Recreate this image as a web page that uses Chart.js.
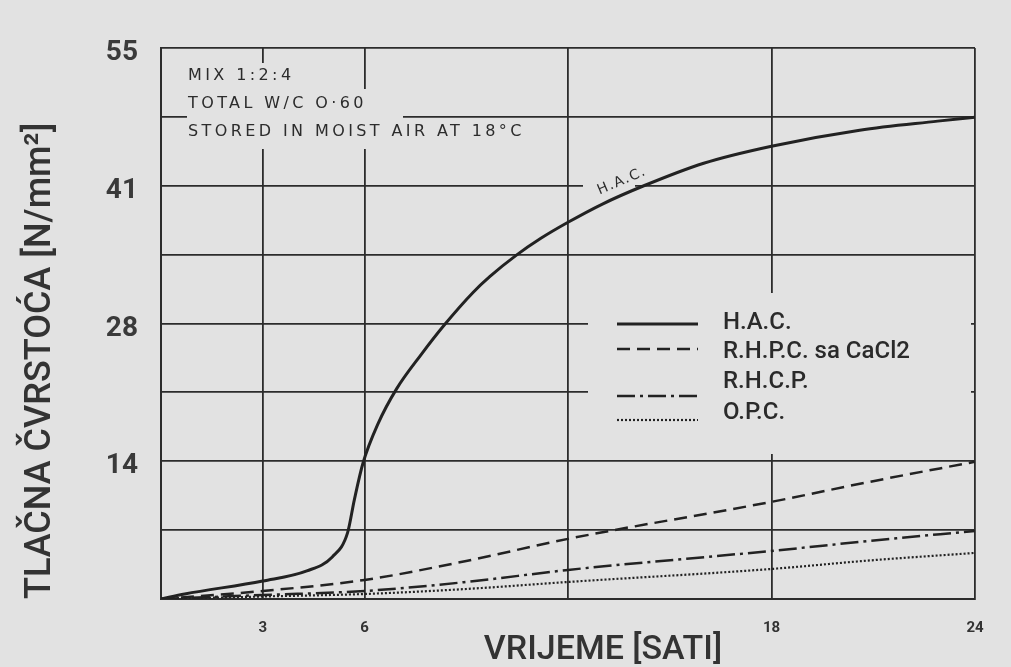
<!DOCTYPE html>
<html><head><meta charset="utf-8">
<script src="https://cdn.jsdelivr.net/npm/chart.js@4.4.1/dist/chart.umd.min.js"></script>
<style>html,body{margin:0;padding:0;background:#e2e2e2;}#wrap{width:1011px;height:667px;position:relative}</style>
</head><body><div id="wrap"><canvas id="c" width="1011" height="667"></canvas></div>
<script>
// ---- data ----
const xGridValues = [0, 3, 6, 12, 18, 24];
const xTickLabels = ['', '3', '6', '', '18', '24'];
const yGridValues = [0, 6.875, 13.75, 20.625, 27.5, 34.375, 41.25, 48.125, 55];
const yTickLabels = ['', '', '14', '', '28', '', '41', '', '55'];
const seriesNames = ['H.A.C.', 'R.H.P.C. sa CaCl2', 'R.H.C.P.', 'O.P.C.'];
const hacHours  = [0, 0.7, 3, 4.3, 5.05, 5.5, 5.7, 5.95, 6.4, 6.95, 7.67, 8.34, 9.2, 9.7, 10.47, 11.2, 12, 13, 14.2, 16, 18, 20.6, 22.9, 24];
const hacValues = [0, 0.5, 1.8, 2.8, 4.2, 6.6, 9.9, 13.5, 17.5, 21, 24.4, 27.3, 30.6, 32.2, 34.3, 36.0, 37.6, 39.4, 41.2, 43.5, 45.2, 46.8, 47.7, 48.1];
const rhpcHours  = [0, 3, 6, 9, 12, 18, 20.9, 24];
const rhpcValues = [0, 0.8, 1.9, 3.8, 6.0, 9.7, 11.7, 13.7];
const rhcpHours  = [0, 3, 6, 9, 12, 18, 20.9, 24];
const rhcpValues = [0, 0.4, 0.8, 1.7, 2.9, 4.8, 5.8, 6.8];
const opcHours   = [0, 3, 6, 9, 12, 18, 20.9, 24];
const opcValues  = [0, 0.25, 0.5, 1.0, 1.7, 3.0, 3.85, 4.6];
const noteLines = ['MIX 1:2:4', 'TOTAL W/C O·60', 'STORED IN MOIST AIR AT 18°C'];
const xTitle = 'VRIJEME [SATI]';
const yTitle = 'TLAČNA ČVRSTOĆA [N/mm²]';

const BG = '#e2e2e2';
const INK = '#222222';
const pts = (xs, ys) => xs.map((x, i) => ({x: x, y: ys[i]}));

const bgPlugin = {
  id: 'bg',
  beforeDraw(chart) {
    const ctx = chart.ctx;
    ctx.save(); ctx.fillStyle = BG; ctx.fillRect(0, 0, chart.width, chart.height); ctx.restore();
  }
};

// gaps in the grid behind the note text, the legend and the curve label
const maskPlugin = {
  id: 'masks',
  beforeDatasetsDraw(chart) {
    const ctx = chart.ctx;
    const a = chart.chartArea;
    ctx.save();
    ctx.fillStyle = BG;
    ctx.fillRect(187, 89, 216, 60);
    ctx.fillRect(240, 63, 60, 27);
    ctx.fillRect(588, 293, a.right - 4 - 588, 161);
    ctx.fillRect(583, 176, 52, 16);
    ctx.restore();
  }
};

const textPlugin = {
  id: 'texts',
  afterDatasetsDraw(chart) {
    const ctx = chart.ctx;
    ctx.save();
    // note
    ctx.fillStyle = '#2c2c2c';
    ctx.font = '16px "DejaVu Sans"';
    ctx.letterSpacing = '3.4px';
    ctx.textBaseline = 'middle';
    ctx.textAlign = 'left';
    const noteY = [76, 104, 132];
    noteLines.forEach((t, i) => ctx.fillText(t, 188, noteY[i]));
    // curve label
    ctx.save();
    ctx.translate(622, 181);
    ctx.rotate(-23 * Math.PI / 180);
    ctx.font = '14px "DejaVu Sans"';
    ctx.letterSpacing = '1.5px';
    ctx.textAlign = 'center';
    ctx.fillText('H.A.C.', 0, 0);
    ctx.restore();
    // legend
    ctx.letterSpacing = '0px';
    const textY = [323, 352, 382, 413];
    const lineY = [324, 349, 396, 420];
    chart.data.datasets.forEach((ds, i) => {
      ctx.beginPath();
      ctx.setLineDash(ds.borderDash || []);
      ctx.lineWidth = ds.borderWidth;
      ctx.strokeStyle = ds.borderColor;
      ctx.moveTo(617, lineY[i]); ctx.lineTo(698, lineY[i]);
      ctx.stroke();
      ctx.setLineDash([]);
      ctx.fillStyle = '#2a2a2a';
      ctx.font = '500 24px Roboto';
      ctx.textAlign = 'left';
      ctx.textBaseline = 'middle';
      ctx.fillText(ds.label, 723, textY[i]);
    });
    // x title
    ctx.font = '500 34px Roboto';
    ctx.fillStyle = '#333';
    ctx.textAlign = 'center';
    ctx.textBaseline = 'middle';
    ctx.fillText(xTitle, 603, 650);
    ctx.restore();
  }
};

const lineDs = (label, data, dash, width) => ({
  label: label, data: data, borderColor: INK, borderWidth: width, borderDash: dash,
  pointRadius: 0, fill: false, cubicInterpolationMode: 'monotone'
});

new Chart(document.getElementById('c'), {
  type: 'line',
  data: {
    datasets: [
      lineDs(seriesNames[0], pts(hacHours, hacValues), [], 3),
      lineDs(seriesNames[1], pts(rhpcHours, rhpcValues), [13, 7], 2.5),
      lineDs(seriesNames[2], pts(rhcpHours, rhcpValues), [18, 5, 3, 5], 2.5),
      lineDs(seriesNames[3], pts(opcHours, opcValues), [2, 2], 2.2)
    ]
  },
  options: {
    responsive: false, animation: false, devicePixelRatio: 1,
    layout: {padding: {top: 48, right: 36, left: 0, bottom: 0}},
    plugins: {legend: {display: false}, tooltip: {enabled: false}},
    scales: {
      x: {
        type: 'linear', min: 0, max: 24,
        afterFit(s) { s.height = 68; },
        afterBuildTicks(s) { s.ticks = xGridValues.map(v => ({value: v})); },
        grid: {color: '#2c2c2c', lineWidth: 1.8, drawTicks: false},
        border: {color: '#2c2c2c', width: 2},
        ticks: {
          autoSkip: false, maxRotation: 0, padding: 20, color: '#333',
          font: {family: 'Roboto', size: 15, weight: 'bold'},
          callback: (v) => { const i = xGridValues.indexOf(v); return i >= 0 ? xTickLabels[i] : ''; }
        }
      },
      y: {
        type: 'linear', min: 0, max: 55,
        afterFit(s) { s.width = 161; },
        afterBuildTicks(s) { s.ticks = yGridValues.map(v => ({value: v})); },
        grid: {color: '#2c2c2c', lineWidth: 1.8, drawTicks: false},
        border: {color: '#2c2c2c', width: 2},
        ticks: {
          autoSkip: false, padding: 23, color: '#3a3a3a', labelOffset: 5,
          font: {family: 'Roboto', size: 28, weight: 'bold'},
          callback: (v) => { const i = yGridValues.indexOf(v); return i >= 0 ? yTickLabels[i] : ''; }
        },
        title: {
          display: true, text: yTitle, align: 'start', color: '#333',
          font: {family: 'Roboto', size: 36, weight: '500', lineHeight: 1.2},
          padding: {top: 19, bottom: 0}
        }
      }
    }
  },
  plugins: [bgPlugin, maskPlugin, textPlugin]
});
</script></body></html>
